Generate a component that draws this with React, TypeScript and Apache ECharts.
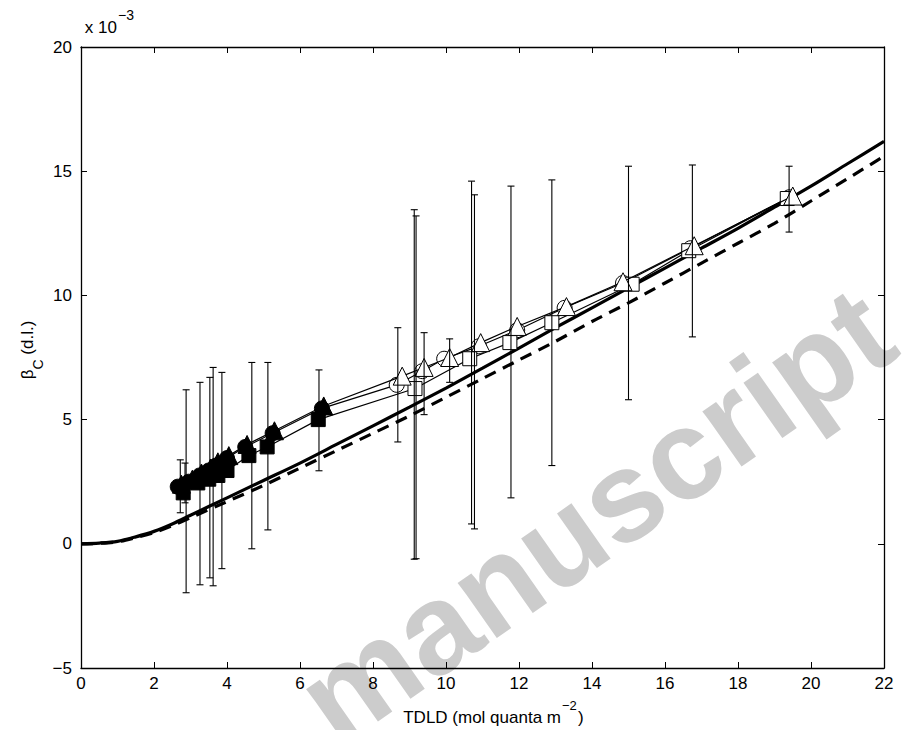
import React, { useEffect, useRef } from "react";
import * as echarts from "echarts";

// ---- data ----
// circles (first circFilled points filled, rest open)
const circX = [2.65, 2.95, 3.25, 3.5, 3.7, 4.0, 4.5, 5.25, 6.6, 8.65, 9.35, 9.95, 10.9, 11.95, 13.25, 14.85, 16.7, 19.4];
const circY = [2.3, 2.5, 2.75, 2.95, 3.15, 3.45, 3.9, 4.45, 5.45, 6.4, 6.95, 7.45, 7.95, 8.6, 9.5, 10.5, 11.9, 13.95];
const circFilled = 9;
// squares
const sqX = [2.8, 3.2, 3.5, 3.75, 4.0, 4.6, 5.1, 6.5, 9.15, 10.65, 11.75, 12.9, 15.1, 16.65, 19.35];
const sqY = [2.05, 2.45, 2.6, 2.75, 2.95, 3.55, 3.9, 5.0, 6.25, 7.45, 8.1, 8.9, 10.45, 11.8, 13.9];
const sqFilled = 8;
// triangles
const triX = [2.75, 3.05, 3.3, 3.55, 3.75, 4.05, 4.55, 5.3, 6.65, 8.8, 9.4, 10.1, 10.95, 11.95, 13.3, 14.85, 16.8, 19.5];
const triY = [2.4, 2.6, 2.85, 3.05, 3.3, 3.55, 4.0, 4.55, 5.55, 6.75, 7.1, 7.5, 8.1, 8.75, 9.55, 10.55, 12.0, 14.0];
const triFilled = 9;
// error bars
const errX = [2.72, 2.85, 2.88, 3.26, 3.53, 3.62, 3.86, 4.68, 5.12, 6.52, 8.68, 9.13, 9.18, 9.4, 10.1, 10.7, 10.78, 11.78, 12.9, 15.0, 16.75, 19.4];
const errLow = [1.25, 1.65, -1.97, -1.65, -1.37, -1.69, -1.0, -0.2, 0.56, 2.94, 4.1, -0.62, -0.6, 5.2, 6.5, 0.8, 0.6, 1.85, 3.15, 5.8, 8.33, 12.55];
const errHigh = [3.38, 3.25, 6.2, 6.5, 6.7, 7.1, 6.9, 7.3, 7.3, 7.0, 8.7, 13.45, 13.2, 8.5, 8.25, 14.6, 14.05, 14.4, 14.65, 15.2, 15.25, 15.2];
// model curves
const modelX = [0, 0.5, 1, 1.5, 2, 2.5, 3, 4, 5, 6, 7, 8, 9, 10, 11, 12, 13, 14, 15, 16, 17, 18, 19, 20, 21, 22];
const solidY = [0, 0.03, 0.1, 0.28, 0.5, 0.8, 1.15, 1.85, 2.55, 3.25, 4.0, 4.75, 5.5, 6.27, 7.07, 7.88, 8.7, 9.5, 10.3, 11.1, 11.9, 12.7, 13.55, 14.4, 15.3, 16.2];
const dashedY = [0, 0.02, 0.08, 0.25, 0.45, 0.73, 1.05, 1.7, 2.35, 3.05, 3.75, 4.45, 5.15, 5.9, 6.65, 7.4, 8.15, 8.95, 9.7, 10.5, 11.3, 12.1, 12.9, 13.8, 14.7, 15.6];
// axis ticks
const xTicks = [0, 2, 4, 6, 8, 10, 12, 14, 16, 18, 20, 22];
const yTicks = [-5, 0, 5, 10, 15, 20];

const FONT = '"Liberation Sans", Arial, Helvetica, sans-serif';

function pts(xs: number[], ys: number[], nFilled: number) {
  return xs.map((x, i) => ({
    value: [x, ys[i]],
    itemStyle: { color: i < nFilled ? "#000" : "#fff", borderColor: "#000", borderWidth: 1 },
  }));
}

export default function App() {
  const ref = useRef<HTMLDivElement>(null);
  useEffect(() => {
    document.body.style.margin = "0";
    const chart = echarts.init(ref.current!, null, { renderer: "svg" });
    const axisCommon = {
      type: "value" as const,
      axisLine: { show: true, onZero: false, lineStyle: { color: "#000", width: 1.3 } },
      axisTick: { show: true, inside: true, length: 6, lineStyle: { color: "#000", width: 1 } },
      splitLine: { show: false },
    };
    const errData = errX.map((x, i) => [x, errLow[i], errHigh[i]]);
    const txt = (x: number, y: number, text: string, size: number, align: string, vAlign: string, rot = 0) => ({
      type: "text",
      z: 100,
      x,
      y,
      rotation: rot,
      style: { text, font: size + "px " + FONT, fill: "#000", align, verticalAlign: vAlign },
    });
    chart.setOption({
      animation: false,
      backgroundColor: "#fff",
      grid: { left: 81, right: 30, top: 47, bottom: 62, containLabel: false },
      xAxis: [
        {
          ...axisCommon,
          position: "bottom",
          min: xTicks[0],
          max: xTicks[xTicks.length - 1],
          interval: 2,
          axisLabel: { color: "#000", fontSize: 17, fontFamily: FONT, margin: 7 },
        },
        {
          ...axisCommon,
          position: "top",
          min: xTicks[0],
          max: xTicks[xTicks.length - 1],
          interval: 2,
          axisLabel: { show: false },
        },
      ],
      yAxis: [
        {
          ...axisCommon,
          position: "left",
          min: yTicks[0],
          max: yTicks[yTicks.length - 1],
          interval: 5,
          axisLabel: {
            color: "#000",
            fontSize: 17,
            fontFamily: FONT,
            margin: 9,
            formatter: (v: number) => (v < 0 ? "\u2212" + Math.abs(v) : String(v)),
          },
        },
        {
          ...axisCommon,
          position: "right",
          min: yTicks[0],
          max: yTicks[yTicks.length - 1],
          interval: 5,
          axisLabel: { show: false },
        },
      ],
      graphic: [
        {
          type: "text",
          z: 0,
          x: 595,
          y: 515,
          rotation: (35 * Math.PI) / 180,
          style: {
            text: "manuscript",
            font: "bold 128px " + FONT,
            fill: "#cccccc",
            align: "center",
            verticalAlign: "middle",
          },
        },
        // "x 10^-3" multiplier
        txt(117, 36, "x 10", 17, "right", "bottom"),
        txt(118, 22, "\u22123", 14, "left", "bottom"),
        // x-axis name
        txt(561, 726, "TDLD (mol quanta m", 17, "right", "bottom"),
        txt(562, 712, "\u22122", 13, "left", "bottom"),
        txt(578, 726, ")", 17, "left", "bottom"),
        // y-axis name (rotated)
        {
          type: "text",
          z: 100,
          x: 32,
          y: 350,
          rotation: Math.PI / 2,
          style: {
            text: "{a|\u03b2}{s|C}{a| (d.l.)}",
            align: "center",
            verticalAlign: "middle",
            rich: {
              a: { fontSize: 17, fontFamily: FONT, fill: "#000", lineHeight: 26, verticalAlign: "top" },
              s: { fontSize: 14, fontFamily: FONT, fill: "#000", lineHeight: 14, verticalAlign: "bottom" },
            },
          },
        },
      ],
      series: [
        {
          type: "line",
          name: "model",
          data: modelX.map((x, i) => [x, solidY[i]]),
          showSymbol: false,
          smooth: 0.3,
          lineStyle: { color: "#000", width: 3.2 },
          z: 3,
        },
        {
          type: "line",
          name: "model dashed",
          data: modelX.map((x, i) => [x, dashedY[i]]),
          showSymbol: false,
          smooth: 0.3,
          lineStyle: { color: "#000", width: 3.2, type: [12, 8] },
          z: 3,
        },
        {
          type: "line",
          name: "circles",
          data: pts(circX, circY, circFilled),
          symbol: "circle",
          symbolSize: 15,
          lineStyle: { color: "#000", width: 1.2 },
          z: 4,
        },
        {
          type: "line",
          name: "squares",
          data: pts(sqX, sqY, sqFilled),
          symbol: "rect",
          symbolSize: 14,
          lineStyle: { color: "#000", width: 1.2 },
          z: 5,
        },
        {
          type: "line",
          name: "triangles",
          data: pts(triX, triY, triFilled),
          symbol: "triangle",
          symbolSize: 18,
          lineStyle: { color: "#000", width: 1.2 },
          z: 6,
        },
        {
          type: "custom",
          name: "error",
          data: errData,
          z: 7,
          renderItem: (params: any, api: any) => {
            const x = api.value(0);
            const lo = api.coord([x, api.value(1)]);
            const hi = api.coord([x, api.value(2)]);
            const cw = 3.5;
            const st = { stroke: "#000", lineWidth: 1.1 };
            return {
              type: "group",
              children: [
                { type: "line", shape: { x1: lo[0], y1: lo[1], x2: hi[0], y2: hi[1] }, style: st },
                { type: "line", shape: { x1: lo[0] - cw, y1: lo[1], x2: lo[0] + cw, y2: lo[1] }, style: st },
                { type: "line", shape: { x1: hi[0] - cw, y1: hi[1], x2: hi[0] + cw, y2: hi[1] }, style: st },
              ],
            };
          },
        },
      ],
    });
    return () => chart.dispose();
  }, []);
  return <div ref={ref} style={{ width: 914, height: 730 }} />;
}
